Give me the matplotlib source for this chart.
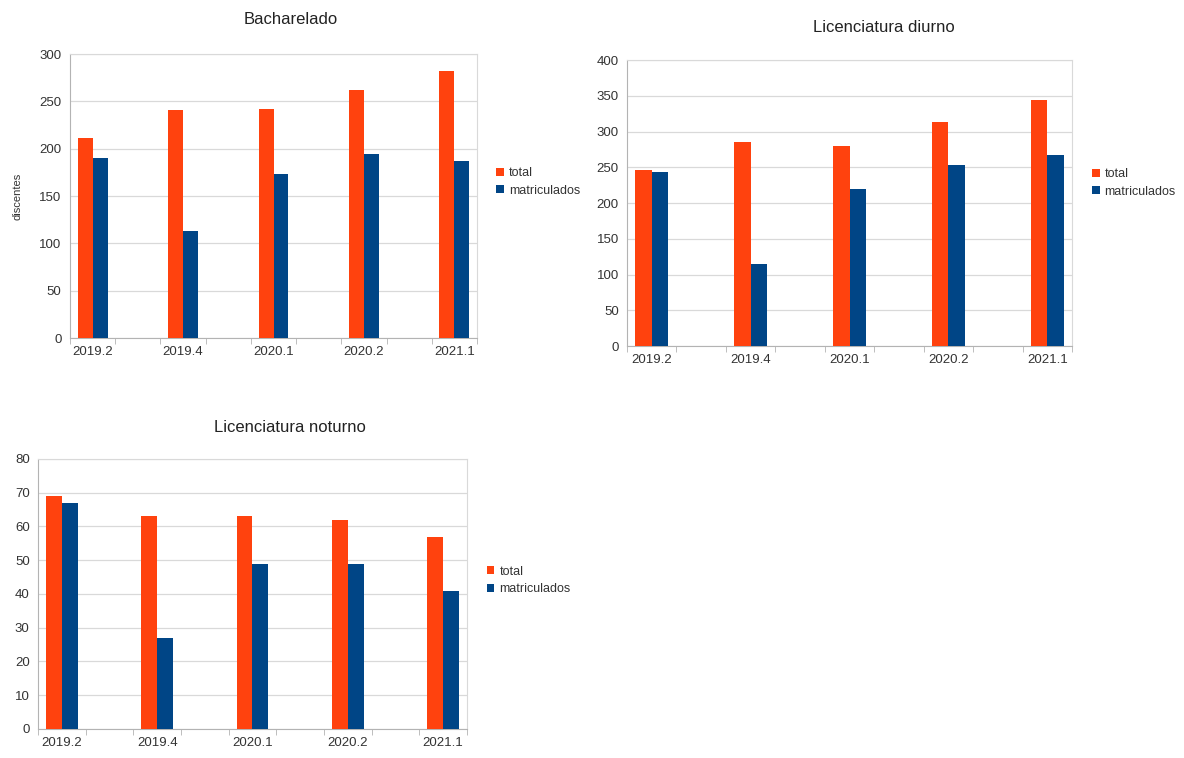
import numpy as np
import matplotlib
matplotlib.use("Agg")
import matplotlib.pyplot as plt

plt.rcParams['font.family'] = ['Liberation Sans', 'DejaVu Sans']

semestres = ["2019.2", "2019.4", "2020.1", "2020.2", "2021.1"]

bach_total = [211, 241, 242, 262, 282]
bach_matric = [190, 113, 173, 194, 187]

diurno_total = [246, 285, 280, 313, 344]
diurno_matric = [243, 115, 219, 253, 267]

noturno_total = [69, 63, 63, 62, 57]
noturno_matric = [67, 27, 49, 49, 41]

laranja = "#ff420e"
azul = "#004586"
cinza = "#b3b3b3"
texto = "#333333"

W, H = 1184, 758


def grafico(ax, titulo, tpos, total, matric, ymax, passo, leg_y, ylabel=None):
    x = np.arange(len(semestres))
    w = 0.165
    ax.bar(x - w / 2, total, w, color=laranja, label="total", zorder=3)
    ax.bar(x + w / 2, matric, w, color=azul, label="matriculados", zorder=3)
    ax.set_xlim(-0.25, len(semestres) - 0.75)
    ax.set_ylim(0, ymax)
    ax.set_yticks(np.arange(0, ymax + 1, passo))
    ax.set_xticks(x)
    ax.set_xticklabels(semestres)
    ax.set_xticks(np.concatenate([x - 0.25, x + 0.25]), minor=True)
    ax.tick_params(axis="x", which="major", length=0, labelsize=9.5,
                   colors=texto, pad=6)
    ax.tick_params(axis="x", which="minor", length=4, color=cinza)
    ax.tick_params(axis="y", length=0, labelsize=9.5, colors=texto, pad=6)
    ax.grid(axis="y", color="#d9d9d9", linewidth=0.9, zorder=0)
    for s in ax.spines.values():
        s.set_color("#d9d9d9")
    ax.spines["left"].set_color(cinza)
    ax.spines["bottom"].set_color(cinza)
    # titulo centrado sobre grafico + legenda
    fig.text(tpos[0] / W, 1 - tpos[1] / H, titulo, fontsize=12,
             color="#222222", ha="center", va="center")
    if ylabel:
        ax.set_ylabel(ylabel, fontsize=8, color=texto, labelpad=12)
    ax.legend(loc="center left", bbox_to_anchor=(1.02, leg_y), frameon=False,
              fontsize=9, handlelength=0.6, handleheight=0.6,
              handletextpad=0.4, labelspacing=0.45, labelcolor=texto)


fig = plt.figure(figsize=(11.84, 7.58), dpi=100)

ax1 = fig.add_axes([0.0591, 0.554, 0.3438, 0.3747])
grafico(ax1, "Bacharelado", (291, 20), bach_total, bach_matric, 300, 50, 0.55,
        ylabel="discentes")

ax2 = fig.add_axes([0.5296, 0.5435, 0.3758, 0.3773])
grafico(ax2, "Licenciatura diurno", (884, 28), diurno_total, diurno_matric,
        400, 50, 0.57)

ax3 = fig.add_axes([0.0321, 0.0383, 0.3623, 0.3562])
grafico(ax3, "Licenciatura noturno", (290, 428), noturno_total, noturno_matric,
        80, 10, 0.55)

fig.savefig("out.png", dpi=100, facecolor="white")
